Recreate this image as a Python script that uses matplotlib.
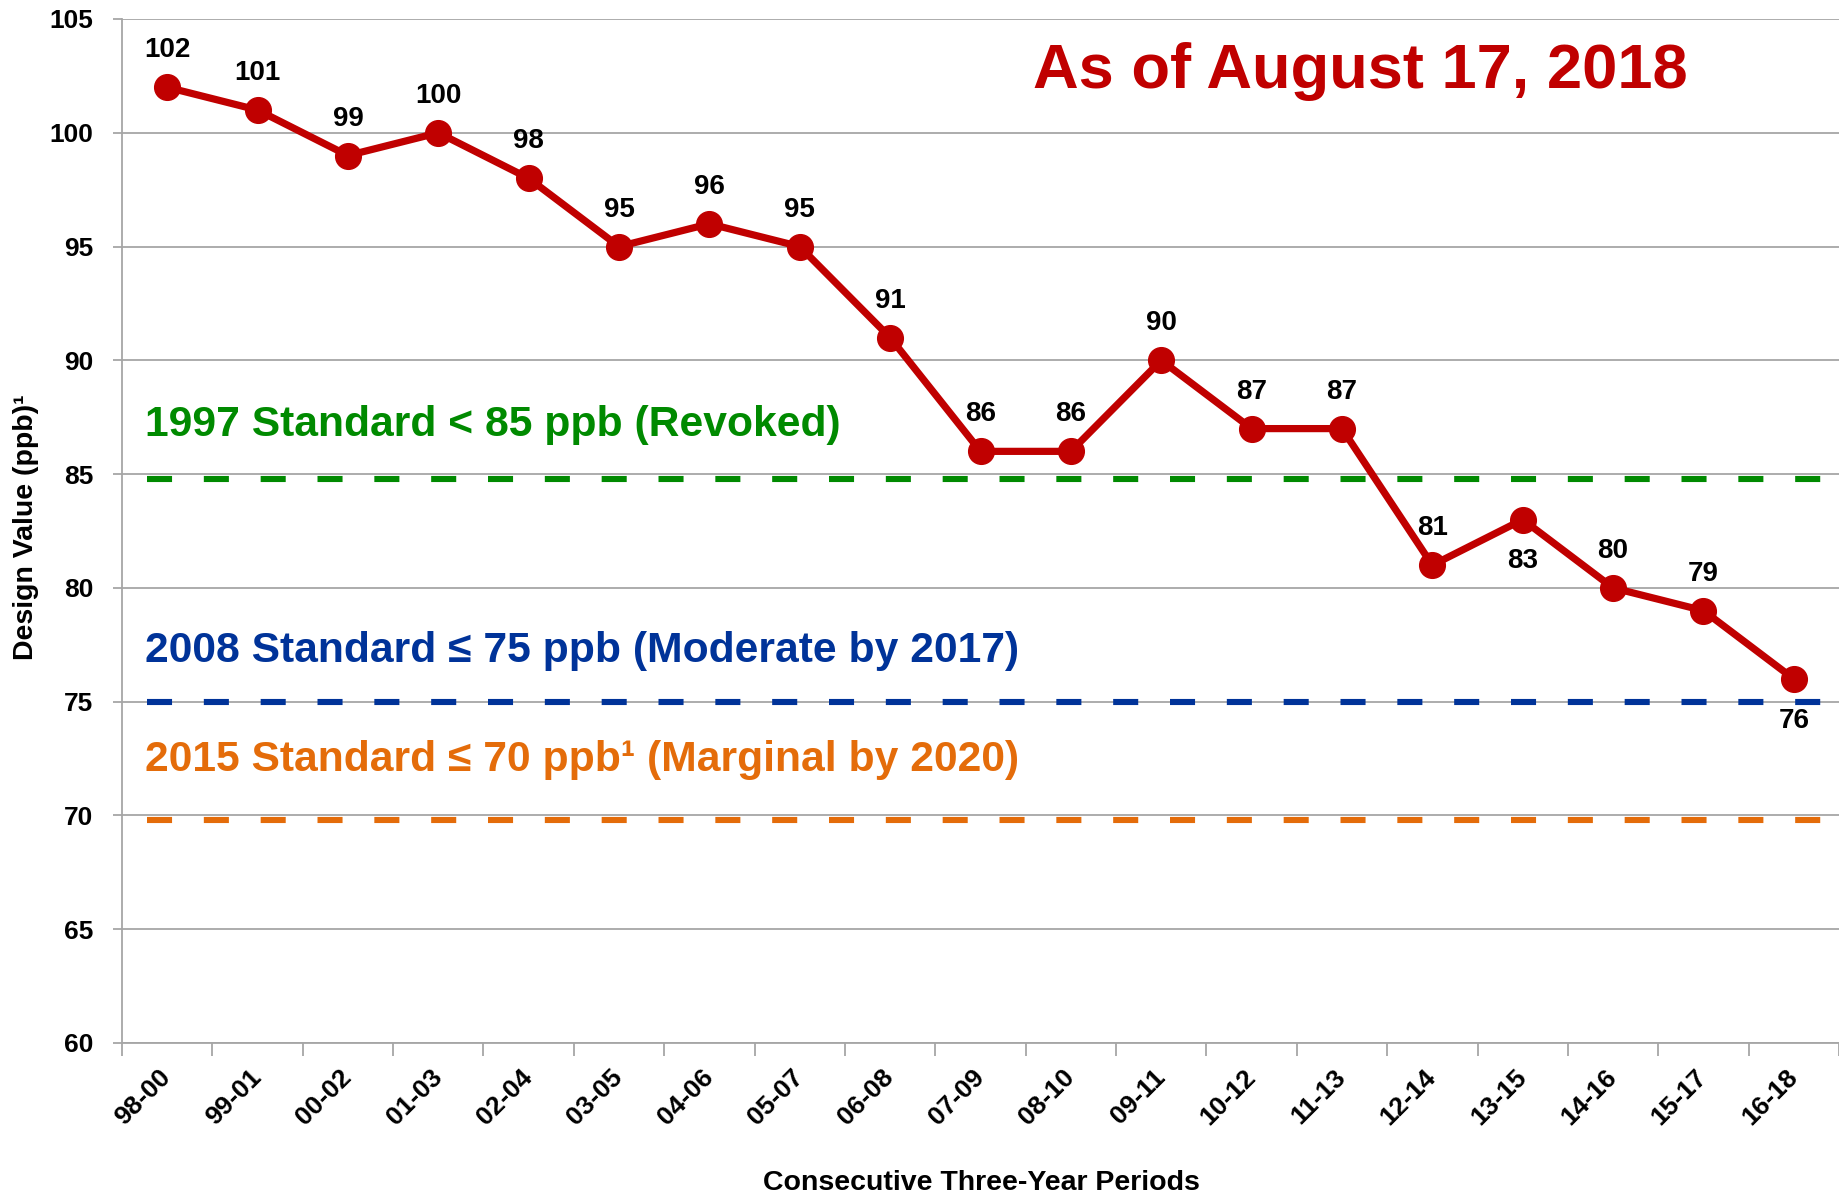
import matplotlib
matplotlib.use("Agg")
import matplotlib.pyplot as plt
from matplotlib.ticker import FixedLocator

plt.rcParams['font.family'] = ['Liberation Sans', 'DejaVu Sans']
plt.rcParams['font.weight'] = 'bold'

# ---- data ----
periods = ["98-00", "99-01", "00-02", "01-03", "02-04", "03-05", "04-06", "05-07",
           "06-08", "07-09", "08-10", "09-11", "10-12", "11-13", "12-14", "13-15",
           "14-16", "15-17", "16-18"]
design_values = [102, 101, 99, 100, 98, 95, 96, 95, 91, 86, 86, 90, 87, 87, 81, 83, 80, 79, 76]
label_below = ["13-15", "16-18"]

standard_levels = [84.8, 75.0, 69.8]
standard_texts = ["1997 Standard < 85 ppb (Revoked)",
                  "2008 Standard \u2264 75 ppb (Moderate by 2017)",
                  "2015 Standard \u2264 70 ppb\u00b9 (Marginal by 2020)"]
standard_text_y = [87.15, 77.22, 72.45]
standard_colors = ["#008A00", "#003399", "#E46C0A"]

yticks = [60, 65, 70, 75, 80, 85, 90, 95, 100, 105]
title_text = "As of August 17, 2018"
ylabel = "Design Value (ppb)\u00b9"
xlabel = "Consecutive Three-Year Periods"

RED = "#C00000"
GRID = "#A6A6A6"

W, H = 1839, 1198
fig = plt.figure(figsize=(W / 100, H / 100), dpi=100)
l, r, t, b = 122, 1839, 19, 1043
ax = fig.add_axes([l / W, 1 - b / H, (r - l) / W, (b - t) / H])

x = list(range(len(periods)))

ax.set_xlim(-0.5, len(periods) - 0.5)
ax.set_ylim(60, 105)

# grid
ax.set_yticks(yticks)
ax.yaxis.grid(True, color=GRID, linewidth=1.3)
ax.set_axisbelow(True)

# standard lines
for lvl, c in zip(standard_levels, standard_colors):
    ax.plot([-0.22, 18.33], [lvl, lvl], color=c, linewidth=4.4,
            dashes=(4.1, 5.2), dash_capstyle='butt', zorder=2)

# main series
ax.plot(x, design_values, color=RED, linewidth=5.2, marker='o', markersize=18.5,
        markerfacecolor=RED, markeredgecolor=RED, zorder=3)

for xi, p, v in zip(x, periods, design_values):
    if p in label_below:
        dy = -35
    else:
        dy = 21.6
    ax.annotate(str(v), (xi, v), xytext=(0, dy), textcoords='offset points',
                ha='center', va='baseline', fontsize=20, fontweight='bold',
                color='black', zorder=4)

# standard texts
for txt, ty, c in zip(standard_texts, standard_text_y, standard_colors):
    ax.text(-0.245, ty, txt, color=c, fontsize=30.7, fontweight='bold',
            ha='left', va='center')

ax.text(13.2, 102.7, title_text, color=RED, fontsize=45.5, fontweight='bold',
        ha='center', va='center')

# axes styling
for s in ['top', 'right']:
    ax.spines[s].set_visible(False)
for s in ['left', 'bottom']:
    ax.spines[s].set_color(GRID)
    ax.spines[s].set_linewidth(1.3)

ax.set_xticks(x)
ax.set_xticklabels(periods, rotation=45, ha='right', va='center',
                   rotation_mode='anchor', fontsize=19, fontweight='bold')
ax.xaxis.set_minor_locator(FixedLocator([i - 0.5 for i in range(len(periods) + 1)]))
ax.tick_params(axis='x', which='major', length=0, pad=22)
ax.tick_params(axis='x', which='minor', length=9, color=GRID, width=1.3)
ax.tick_params(axis='y', which='major', length=6.5, color=GRID, width=1.3,
               labelsize=19, pad=14)
for lab in ax.get_yticklabels():
    lab.set_fontweight('bold')

ax.set_ylabel(ylabel, fontsize=20.5, fontweight='bold', labelpad=0)
ax.yaxis.label.set_va('center')
ax.yaxis.set_label_coords(-(122 - 26) / (r - l), 0.5 + (531 - 527) / (b - t))
ax.set_xlabel(xlabel, fontsize=20.5, fontweight='bold')
ax.xaxis.label.set_va('center')
ax.xaxis.set_label_coords((981 - l) / (r - l), -(1183 - b) / (b - t))

fig.savefig("out.png", dpi=100)
